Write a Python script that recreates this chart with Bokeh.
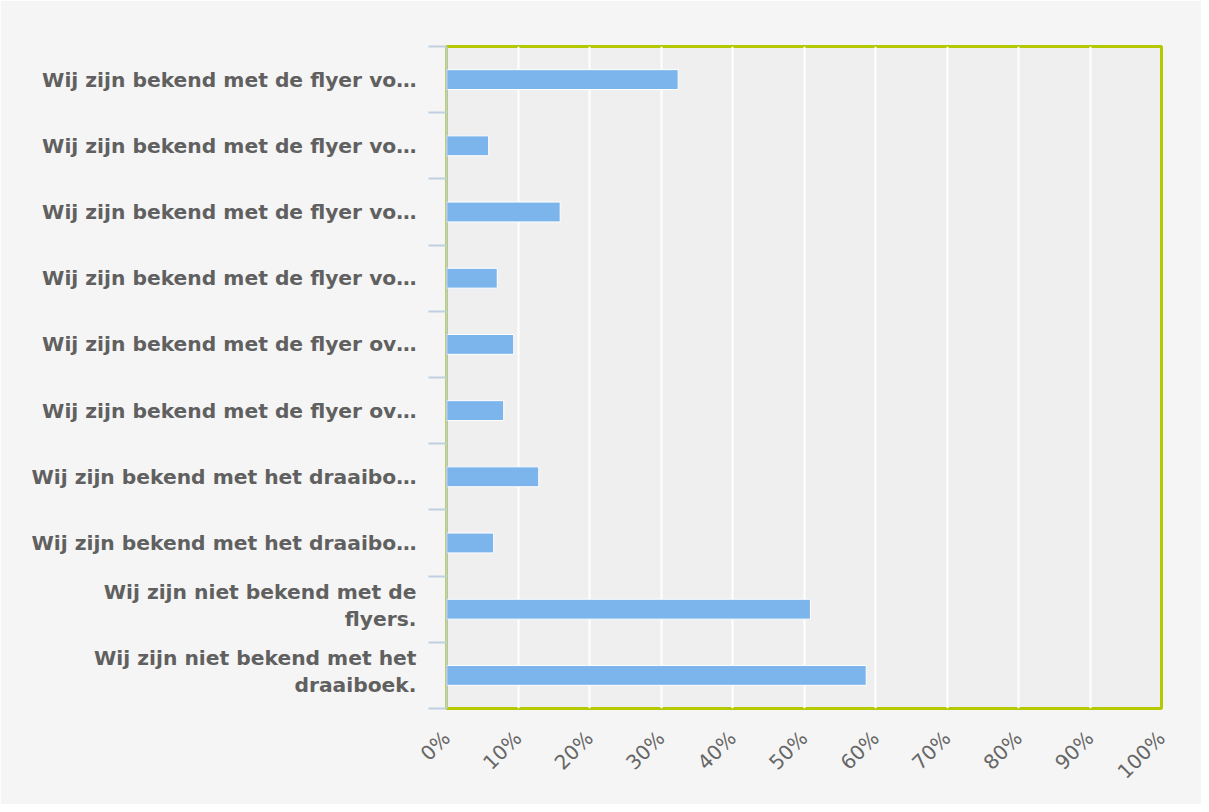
import math
from bokeh.plotting import figure
from bokeh.models import Range1d, FixedTicker, ColumnDataSource
from bokeh.embed import file_html
from bokeh.resources import INLINE

categories = [
    "Wij zijn bekend met de flyer vo…",
    "Wij zijn bekend met de flyer vo…",
    "Wij zijn bekend met de flyer vo…",
    "Wij zijn bekend met de flyer vo…",
    "Wij zijn bekend met de flyer ov…",
    "Wij zijn bekend met de flyer ov…",
    "Wij zijn bekend met het draaibo…",
    "Wij zijn bekend met het draaibo…",
    "Wij zijn niet bekend met de\nflyers.",
    "Wij zijn niet bekend met het\ndraaiboek.",
]
values = [32.4, 5.9, 15.9, 7.1, 9.4, 8.0, 12.9, 6.6, 50.9, 58.7]
x_ticks = [0, 10, 20, 30, 40, 50, 60, 70, 80, 90, 100]
x_tick_labels = [f"{t}%" for t in x_ticks]

n = len(categories)
centers = [i + 0.5 for i in range(n)]
source = ColumnDataSource(dict(y=centers, right=values))

# category labels: wrapped labels are placed line by line
label_pos = []
label_txt = {}
for c, lab in zip(centers, categories):
    lines = lab.split("\n")
    if len(lines) == 1:
        label_pos.append(c)
        label_txt[c] = lab
    else:
        for off, ln in zip([-0.26, 0.15], lines):
            pos = round(c + off, 3)
            label_pos.append(pos)
            label_txt[pos] = ln

p = figure(width=1201, height=804, output_backend="svg", toolbar_location=None,
           x_range=Range1d(0, 100), y_range=Range1d(n, 0),
           min_border_left=446, min_border_right=40, min_border_top=46, min_border_bottom=96)

p.background_fill_color = "#efefef"
p.border_fill_color = "#f5f5f5"
p.outline_line_color = "#b5c900"
p.outline_line_width = 3

p.hbar(y="y", left=0, right="right", height=0.3, source=source,
       fill_color="#7cb5ec", line_color="white", line_width=1)

# x axis
p.xaxis.ticker = FixedTicker(ticks=x_ticks)
p.xaxis.major_label_overrides = {t: l for t, l in zip(x_ticks, x_tick_labels)}
p.xaxis.major_label_orientation = math.pi / 4
p.xaxis.axis_line_color = None
p.xaxis.major_tick_line_color = None
p.xaxis.minor_tick_line_color = None
p.xaxis.major_label_text_font = "DejaVu Sans"
p.xaxis.major_label_text_font_size = "20px"
p.xaxis.major_label_text_color = "#666666"
p.xaxis.major_label_standoff = 20

p.xgrid.ticker = FixedTicker(ticks=x_ticks)
p.xgrid.grid_line_color = "white"
p.xgrid.grid_line_width = 2
p.ygrid.grid_line_color = None

# y axis
p.yaxis.ticker = FixedTicker(ticks=label_pos, minor_ticks=list(range(n + 1)))
p.yaxis.major_label_overrides = label_txt
p.yaxis.axis_line_color = "#c0d0e0"
p.yaxis.axis_line_width = 2
p.yaxis.major_tick_line_color = None
p.yaxis.minor_tick_line_color = "#c0d0e0"
p.yaxis.minor_tick_line_width = 2
p.yaxis.minor_tick_out = 18
p.yaxis.minor_tick_in = 0
p.yaxis.major_label_text_font = "DejaVu Sans"
p.yaxis.major_label_text_font_style = "bold"
p.yaxis.major_label_text_font_size = "20.25px"
p.yaxis.major_label_text_color = "#606060"
p.yaxis.major_label_standoff = 12

open("out.html", "w").write(file_html(p, INLINE))
